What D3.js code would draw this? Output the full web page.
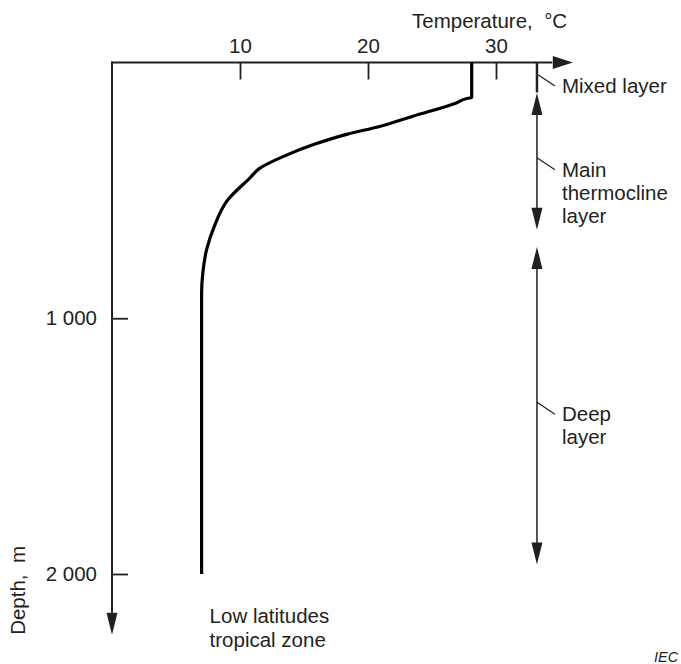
<!DOCTYPE html>
<html>
<head>
<meta charset="utf-8">
<script src="https://cdnjs.cloudflare.com/ajax/libs/d3/7.8.5/d3.min.js"></script>
<style>
body { margin: 0; background: #fff; }
text { font-family: "Liberation Sans", Arial, sans-serif; fill: #231f20; }
</style>
</head>
<body>
<div id="graph"></div>
<script>
// temperature profile (low latitudes), depth in m, temperature in degC
var depths = [0, 137, 140, 160, 210, 250, 280, 320, 367, 415, 450, 540, 640, 730, 820, 900, 2000];
var temps = [28.1, 28.1, 27.8, 26.8, 23.5, 20.9, 18.4, 15.8, 13.4, 11.5, 10.8, 9.0, 8.0, 7.4, 7.1, 7.0, 7.0];

var tempTicks = [10, 20, 30];
var depthTicks = [1000, 2000];

// layers marked on the right side
var layerNames = [["Mixed layer"], ["Main", "thermocline", "layer"], ["Deep", "layer"]];
var layerTops = [0, 119, 721];
var layerBottoms = [117, 654, 1963];
var layerArrows = [false, true, true];
var bracketTemp = 33.2;

var width = 681, height = 664;
var fontSize = "20.5px";

var svg = d3.select("#graph")
    .append("svg")
    .attr("width", width)
    .attr("height", height);

var x = d3.scaleLinear().domain([0, 36]).range([112, 572.8]);
var y = d3.scaleLinear().domain([0, 2000]).range([62.5, 574]);

var ink = "#231f20";

// small filled arrow head, dir = "up" / "down" / "right"
function arrowHead(cx, cy, dir, len, half) {
    var pts;
    if (dir == "down") pts = [[cx, cy], [cx - half, cy - len], [cx + half, cy - len]];
    else if (dir == "up") pts = [[cx, cy], [cx - half, cy + len], [cx + half, cy + len]];
    else pts = [[cx, cy], [cx - len, cy - half], [cx - len, cy + half]];
    svg.append("polygon")
        .attr("points", pts.map(function(p) { return p.join(","); }).join(" "))
        .attr("fill", ink);
}

// axes lines with arrows
svg.append("line")
    .attr("x1", x(0) - 1).attr("x2", x(34.4))
    .attr("y1", y(0)).attr("y2", y(0))
    .attr("stroke", ink).attr("stroke-width", 2);
arrowHead(x(36), y(0), "right", 20, 6.5);

svg.append("line")
    .attr("x1", x(0)).attr("x2", x(0))
    .attr("y1", y(0) - 1).attr("y2", y(2152))
    .attr("stroke", ink).attr("stroke-width", 2);
arrowHead(x(0), y(2238), "down", 22, 5.5);

var spaceFormat = d3.formatLocale({decimal: ".", thousands: "\u00a0", grouping: [3], currency: ["", ""]}).format(",");

var xAxis = svg.append("g")
    .attr("transform", `translate(0,${y(0)})`)
    .call(d3.axisTop(x).tickValues(tempTicks).tickSizeInner(-17).tickSizeOuter(0).tickPadding(10));

var yAxis = svg.append("g")
    .attr("transform", `translate(${x(0)},0)`)
    .call(d3.axisLeft(y).tickValues(depthTicks).tickFormat(spaceFormat).tickSizeInner(-16).tickSizeOuter(0).tickPadding(15));

[xAxis, yAxis].forEach(function(g) {
    g.attr("font-family", null).attr("font-size", null);
    g.select(".domain").remove();
    g.selectAll(".tick line").attr("stroke", ink).attr("stroke-width", 1.8);
    g.selectAll(".tick text").style("font-size", fontSize);
});

// axis titles
svg.append("text")
    .attr("x", 412)
    .attr("y", 28)
    .style("font-size", fontSize)
    .style("white-space", "pre")
    .text("Temperature,  \u00b0C");

svg.append("text")
    .attr("transform", `translate(25,${y(2238)}) rotate(-90)`)
    .style("font-size", fontSize)
    .style("white-space", "pre")
    .text("Depth,  m");

// the profile
var points = depths.map(function(d, i) { return {d: d, t: temps[i]}; });

var line = d3.line()
    .x(function(p) { return x(p.t); })
    .y(function(p) { return y(p.d); })
    .curve(d3.curveMonotoneY);

svg.append("path")
    .datum(points)
    .attr("d", line)
    .attr("fill", "none")
    .attr("stroke", "#000")
    .attr("stroke-width", 3.2);

svg.append("text")
    .attr("x", x(temps[temps.length - 1]) + 8)
    .attr("y", y(2000) + 49)
    .style("font-size", fontSize)
    .selectAll("tspan")
    .data(["Low latitudes", "tropical zone"])
    .enter()
    .append("tspan")
    .attr("x", x(temps[temps.length - 1]) + 8)
    .attr("dy", function(d, i) { return i == 0 ? 0 : 24; })
    .text(function(d) { return d; });

// layer brackets + labels
var bx = x(bracketTemp);
layerNames.forEach(function(names, i) {
    var top = y(layerTops[i]), bottom = y(layerBottoms[i]);
    var len = layerArrows[i] ? 21 : 0;
    svg.append("line")
        .attr("x1", bx).attr("x2", bx)
        .attr("y1", top + len).attr("y2", bottom - len)
        .attr("stroke", ink)
        .attr("stroke-width", layerArrows[i] ? 1.5 : 2.5);
    if (layerArrows[i]) {
        arrowHead(bx, top, "up", 22, 5.5);
        arrowHead(bx, bottom, "down", 22, 5.5);
    }
    var mid = (top + bottom) / 2 - 3.5;
    svg.append("line")
        .attr("x1", bx).attr("x2", bx + 18)
        .attr("y1", mid).attr("y2", mid + 12)
        .attr("stroke", ink).attr("stroke-width", 1.2);
    svg.append("text")
        .attr("y", mid + 19)
        .style("font-size", fontSize)
        .selectAll("tspan")
        .data(names)
        .enter()
        .append("tspan")
        .attr("x", bx + 25)
        .attr("dy", function(d, j) { return j == 0 ? 0 : 23; })
        .text(function(d) { return d; });
});

svg.append("text")
    .attr("x", 654)
    .attr("y", 662)
    .style("font-size", "14.5px")
    .style("font-style", "italic")
    .text("IEC");
</script>
</body>
</html>
